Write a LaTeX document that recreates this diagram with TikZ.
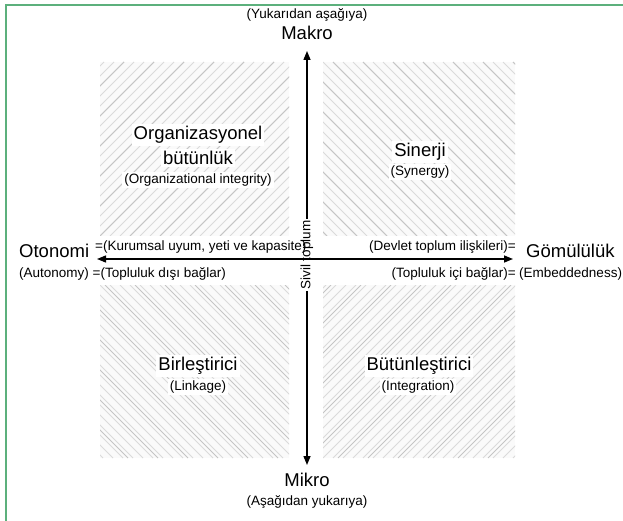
\documentclass[tikz,border=0pt]{standalone}
\usepackage{fontspec}
\setmainfont{Liberation Sans}
\usetikzlibrary{arrows.meta}
\definecolor{framegreen}{RGB}{92,176,124}
\definecolor{hatchc}{RGB}{218,218,218}
\definecolor{hatchd}{RGB}{196,196,196}
\definecolor{quadbg}{RGB}{250,250,250}
\tikzset{
  big/.style={font=\fontsize{18.5}{20}\selectfont, inner sep=0pt},
  small/.style={font=\fontsize{13.5}{15}\selectfont, inner sep=0pt},
  hatch/.style={hatchc, line width=0.9pt},
  hatchdark/.style={hatchd, line width=1pt},
  axis/.style={line width=1.4pt, {Triangle[length=9pt,width=7pt]}-{Triangle[length=9pt,width=7pt]}},
  qbig/.style={font=\fontsize{18.5}{20}\selectfont, fill=white, inner sep=2pt},
  qsmall/.style={font=\fontsize{13.5}{15}\selectfont, fill=white, inner sep=2pt}
}
\begin{document}
\begin{tikzpicture}[x=1pt,y=-1pt]
\useasboundingbox (0,0) rectangle (623,521);
\fill[white] (0,0) rectangle (623,521);
% frame (top and left only)
\draw[framegreen, line width=2pt] (6,521) -- (6,5) -- (623,5);

% quadrant hatching
% top-left "/"
\begin{scope}
\clip (100,62) rectangle (289,236);
\fill[quadbg] (100,62) rectangle (289,236);
\foreach \d in {-180,-170,...,200} \draw[hatch] (100+\d,236) -- (100+\d+174,62);
\foreach \d in {-180,-150,...,200} \draw[hatchdark] (100+\d,236) -- (100+\d+174,62);
\end{scope}
% top-right "\"
\begin{scope}
\clip (323,62) rectangle (515,236);
\fill[quadbg] (323,62) rectangle (515,236);
\foreach \d in {-180,-170,...,200} \draw[hatch] (323+\d,62) -- (323+\d+174,236);
\foreach \d in {-170,-140,...,200} \draw[hatchdark] (323+\d,62) -- (323+\d+174,236);
\end{scope}
% bottom-left "\"
\begin{scope}
\clip (100,285) rectangle (289,458);
\fill[quadbg] (100,285) rectangle (289,458);
\foreach \d in {-180,-170,...,200} \draw[hatch] (100+\d,285) -- (100+\d+173,458);
\foreach \d in {-175,-145,...,200} \draw[hatchdark] (100+\d,285) -- (100+\d+173,458);
\end{scope}
% bottom-right "/"
\begin{scope}
\clip (323,285) rectangle (515,458);
\fill[quadbg] (323,285) rectangle (515,458);
\foreach \d in {-180,-170,...,200} \draw[hatch] (323+\d,458) -- (323+\d+173,285);
\foreach \d in {-165,-135,...,200} \draw[hatchdark] (323+\d,458) -- (323+\d+173,285);
\end{scope}

% axis end points
\coordinate (top) at (307,51);
\coordinate (bot) at (307,465);
\coordinate (lft) at (97,259);
\coordinate (rgt) at (513,259);

% vertical axis
\draw[axis] (bot) -- (top);

% Sivil toplum (covers vertical line)
\node[small, fill=white, inner sep=1pt, rotate=90] (sivil) at (307,255) {Sivil toplum};

% horizontal axis
\draw[axis] (lft) -- (rgt);

% top / bottom labels
\node[small] (yukari) at (307,15) {(Yukarıdan aşağıya)};
\node[big] (makro) at (307,33) {Makro};
\node[big] (mikro) at (307,480) {Mikro};
\node[small] (asagi) at (307,502) {(Aşağıdan yukarıya)};

% left side
\node[big, anchor=base west] (otonomi) at (19,258) {Otonomi};
\node[small, anchor=base west] (kurumsal) at (95,251) {=(Kurumsal uyum, yeti ve kapasite)};
\node[small, anchor=base west] (autonomy) at (19,277) {(Autonomy) =(Topluluk dışı bağlar)};

% right side
\node[small, anchor=base east] (devlet) at (516,251) {(Devlet toplum ilişkileri)=};
\node[big, anchor=base west] (gomulu) at (526,258) {Gömülülük};
\node[small, anchor=base east] (topic) at (516,277) {(Topluluk içi bağlar)=};
\node[small, anchor=base west] (embed) at (519,277) {(Embeddedness)};

% quadrant labels
\node[qbig] (org1) at (198,135) {Organizasyonel};
\node[qbig] (org2) at (198,158) {bütünlük};
\node[qsmall] (org3) at (198,180) {(Organizational integrity)};
\node[qbig] (sin1) at (420,152) {Sinerji};
\node[qsmall] (sin2) at (420,172) {(Synergy)};
\node[qbig] (bir1) at (198,366) {Birleştirici};
\node[qsmall] (bir2) at (198,387) {(Linkage)};
\node[qbig] (but1) at (419,366) {Bütünleştirici};
\node[qsmall] (but2) at (418,387) {(Integration)};
\end{tikzpicture}
\end{document}
